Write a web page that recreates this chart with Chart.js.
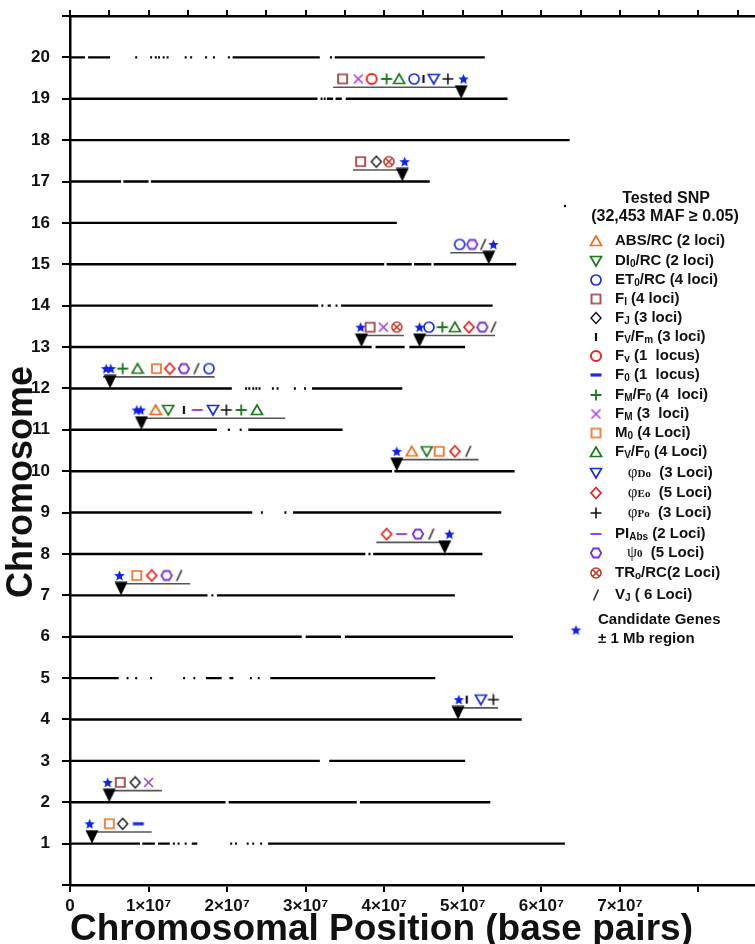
<!DOCTYPE html>
<html><head><meta charset="utf-8">
<script src="https://cdn.jsdelivr.net/npm/chart.js@4.4.1/dist/chart.umd.min.js"></script>
<style>html,body{margin:0;padding:0;background:#fff;overflow:hidden;}#wrap{width:800px;height:944px;}</style>
</head><body><div id="wrap"><canvas id="c" width="755" height="944"></canvas></div>
<script>
// ---------- DATA (positions in Mb) ----------
const chromosomes = [1,2,3,4,5,6,7,8,9,10,11,12,13,14,15,16,17,18,19,20];
const yTickLabels = ['1','2','3','4','5','6','7','8','9','10','11','12','13','14','15','16','17','18','19','20'];
const xTickValues = [0,10,20,30,40,50,60,70,80];
const xTickLabels = ['0','1×10⁷','2×10⁷','3×10⁷','4×10⁷','5×10⁷','6×10⁷','7×10⁷',''];
// SNP coverage runs per chromosome [start,end] (Mb)
const snpRuns = [
  [[0,8.9],[9.2,10.8],[11.2,12.7],[13.1,13.3],[13.7,13.9],[14.6,14.8],[15.5,16.2],[20.4,20.6],[21.0,21.2],[22.5,22.7],[23.2,23.4],[24.2,24.4],[25.2,63.0]],
  [[0,19.8],[20.2,36.5],[36.9,53.5]],
  [[0,31.8],[33.0,50.3]],
  [[0,57.5]],
  [[0,6.2],[7.2,7.4],[8.3,8.5],[10.2,10.4],[14.4,14.6],[15.7,15.9],[17.3,19.3],[20.3,20.8],[22.9,23.1],[23.9,24.1],[25.5,46.5]],
  [[0,29.5],[30,34.5],[35,56.4]],
  [[0,17.5],[18,18.2],[18.7,49]],
  [[0,37.6],[38.0,38.2],[38.6,52.5]],
  [[0,23.2],[24.3,24.5],[27.3,27.5],[28.4,54.9]],
  [[0,41],[41.3,56.6]],
  [[0,18.7],[20.1,20.3],[21.6,21.8],[22.7,34.7]],
  [[0,20.6],[22.3,22.5],[22.7,22.9],[23.2,23.4],[23.6,23.8],[24.0,24.2],[25.7,25.9],[26.3,26.5],[28.5,28.7],[29.8,30.0],[30.8,42.3]],
  [[0,38.4],[38.9,42.6],[43.2,50.3]],
  [[0,31.6],[32,32.2],[32.8,33.2],[33.8,34],[34.5,53.8]],
  [[0,40],[40.3,43.5],[43.8,46],[46.3,56.8]],
  [[0,41.6]],
  [[0,6.5],[6.8,10.0],[10.3,45.8]],
  [[0,63.6]],
  [[0,31.5],[31.9,32.1],[32.3,32.5],[32.7,33.5],[33.8,34.6],[35.1,55.7]],
  [[0,1.9],[2.3,5.1],[8.3,8.5],[10.2,10.4],[10.8,11.0],[11.2,11.4],[11.8,12.0],[12.3,12.5],[14.6,14.8],[15.3,15.5],[17.2,17.4],[18.2,18.4],[20.1,20.3],[20.7,31.8],[33.1,33.3],[33.7,52.8]]
];
// QTL spans [chr, start, end]
const qtlSpans = [[19,33.5,49.2],[17,36.0,42.2],[15,48.4,53.4],[13,36.5,42.5],[13,44.1,54.1],[12,4.2,18.4],[11,8.9,27.4],[10,41.1,52.0],[8,39.0,47.7],[7,6.4,15.3],[4,49.0,54.5],[2,4.7,11.7],[1,2.1,10.4]];
// QTL peak markers [chr, pos]
const qtlPeaks = [[19,49.8],[17,42.3],[15,53.3],[13,37.1],[13,44.5],[12,5.1],[11,9.1],[10,41.6],[8,47.7],[7,6.5],[4,49.4],[2,5.0],[1,2.8]];
// candidate genes [chr, pos]
const candidateGenes = [[19,50.1],[17,42.6],[15,53.9],[13,37.0],[13,44.5],[12,4.6],[12,5.2],[11,8.5],[11,9.0],[10,41.6],[8,48.3],[7,6.3],[4,49.5],[2,4.8],[1,2.5]];
// trait loci [chr, pos]
const ABS_RC  = [[11,10.9],[10,43.5]];
const DI0_RC  = [[11,12.5],[10,45.4]];
const ET0_RC  = [[19,43.8],[15,49.6],[13,45.7],[12,17.7]];
const F_I     = [[19,34.7],[17,37.0],[13,38.2],[2,6.4]];
const F_J     = [[17,39.0],[2,8.3],[1,6.7]];
const FV_FM   = [[19,45.0],[11,14.5],[4,50.5]];
const F_V     = [[19,38.4]];
const F_0     = [[1,8.7]];
const FM_F0   = [[19,40.3],[13,47.4],[12,6.7],[11,21.8]];
const F_M     = [[19,36.7],[13,39.9],[2,10.0]];
const M_0     = [[12,11.0],[10,47.0],[7,8.5],[1,5.0]];
const FV_F0   = [[19,41.9],[13,49.0],[12,8.6],[11,23.8]];
const PHI_DO  = [[19,46.3],[11,18.2],[4,52.3]];
const PHI_EO  = [[13,50.8],[12,12.7],[10,49.0],[8,40.3],[7,10.4]];
const PHI_PO  = [[19,48.1],[11,19.9],[4,53.9]];
const PI_ABS  = [[11,16.2],[8,42.2]];
const PSI_0   = [[15,51.2],[13,52.5],[12,14.5],[8,44.3],[7,12.3]];
const TRO_RC  = [[17,40.6],[13,41.6]];
const V_J     = [[15,52.6],[13,53.9],[12,16.1],[10,50.7],[8,46.0],[7,13.9]];

// ---------- ICONS ----------
function icon(kind, color, opt={}) {
  const s = opt.size || 14, c = document.createElement('canvas');
  c.width = s; c.height = s;
  const g = c.getContext('2d'), m = s/2;
  g.strokeStyle = color; g.fillStyle = color; g.lineWidth = opt.lw || 1.7; g.lineJoin='miter';
  g.beginPath();
  if (kind==='triUp'){ g.moveTo(m,2); g.lineTo(s-1.5,s-2.5); g.lineTo(1.5,s-2.5); g.closePath(); g.stroke(); }
  else if (kind==='triDown'){ g.moveTo(1.5,2.5); g.lineTo(s-1.5,2.5); g.lineTo(m,s-2); g.closePath(); g.stroke(); }
  else if (kind==='circle'){ g.arc(m,m,m-2,0,Math.PI*2); g.stroke(); }
  else if (kind==='square'){ g.rect(2,2,s-4,s-4); g.stroke(); }
  else if (kind==='diamond'){ g.moveTo(m,1.5); g.lineTo(s-2,m); g.lineTo(m,s-1.5); g.lineTo(2,m); g.closePath(); g.stroke(); }
  else if (kind==='vbar'){ g.moveTo(m,2); g.lineTo(m,s-2); g.stroke(); }
  else if (kind==='hdash'){ g.moveTo(1.5,m); g.lineTo(s-1.5,m); g.stroke(); }
  else if (kind==='plus'){ g.moveTo(m,1.5); g.lineTo(m,s-1.5); g.moveTo(1.5,m); g.lineTo(s-1.5,m); g.stroke(); }
  else if (kind==='x'){ g.moveTo(2,2); g.lineTo(s-2,s-2); g.moveTo(s-2,2); g.lineTo(2,s-2); g.stroke(); }
  else if (kind==='hex'){ const r=m-1.8; for(let i=0;i<6;i++){const a=Math.PI/3*i; const px=m+r*Math.cos(a), py=m+r*Math.sin(a); i?g.lineTo(px,py):g.moveTo(px,py);} g.closePath(); g.stroke(); }
  else if (kind==='otimes'){ const r=m-2; g.arc(m,m,r,0,Math.PI*2); const d=r*0.7; g.moveTo(m-d,m-d); g.lineTo(m+d,m+d); g.moveTo(m+d,m-d); g.lineTo(m-d,m+d); g.stroke(); }
  else if (kind==='slash'){ g.moveTo(m-2.5,s-1.5); g.lineTo(m+2.5,1.5); g.stroke(); }
  else if (kind==='star'){ const R=m-1, r=R*0.45; for(let i=0;i<10;i++){const a=-Math.PI/2+i*Math.PI/5; const rr=i%2?r:R; const px=m+rr*Math.cos(a), py=m+0.5+rr*Math.sin(a); i?g.lineTo(px,py):g.moveTo(px,py);} g.closePath(); g.fill(); }
  else if (kind==='peak'){ g.moveTo(0.5,0.5); g.lineTo(s-0.5,0.5); g.lineTo(m,s); g.closePath(); g.fill(); }
  else if (kind==='dot'){ g.arc(m,m,1.2,0,Math.PI*2); g.fill(); }
  return c;
}
const ORANGE='#f26b1d', GREEN='#1b7a1b', BLUE='#1a2de0', RED='#e8251f', PURPLE='#a23fe6', VIOLET='#7b2fd4', BLK='#111';
const traits = [
  {data:ABS_RC, ic:icon('triUp',ORANGE)},
  {data:DI0_RC, ic:icon('triDown',GREEN)},
  {data:ET0_RC, ic:icon('circle',BLUE)},
  {data:F_I,    ic:icon('square','#9e3535',{size:13})},
  {data:F_J,    ic:icon('diamond',BLK,{lw:1.4})},
  {data:FV_FM,  ic:icon('vbar',BLK,{lw:2.2,size:12})},
  {data:F_V,    ic:icon('circle',RED,{lw:2})},
  {data:F_0,    ic:icon('hdash',BLUE,{lw:3.2})},
  {data:FM_F0,  ic:icon('plus',GREEN,{lw:1.8})},
  {data:F_M,    ic:icon('x',PURPLE,{lw:1.6,size:13})},
  {data:M_0,    ic:icon('square',ORANGE,{size:13})},
  {data:FV_F0,  ic:icon('triUp',GREEN)},
  {data:PHI_DO, ic:icon('triDown',BLUE)},
  {data:PHI_EO, ic:icon('diamond',RED,{lw:1.8})},
  {data:PHI_PO, ic:icon('plus',BLK,{lw:1.6})},
  {data:PI_ABS, ic:icon('hdash',PURPLE,{lw:2})},
  {data:PSI_0,  ic:icon('hex',VIOLET,{lw:1.8})},
  {data:TRO_RC, ic:icon('otimes','#c0392b',{lw:1.6})},
  {data:V_J,    ic:icon('slash','#333',{lw:1.6})}
];
const starIcon = icon('star','#1020e6',{size:13});
const peakIcon = icon('peak','#000',{size:14});
const dotIcon = icon('dot','#000',{size:6});

// ---------- DATASETS ----------
const MB = 1e6;
const datasets = [];
chromosomes.forEach((chr,i)=>{
  const pts = [];
  snpRuns[i].forEach((r,k)=>{
    if (k>0) pts.push({x:(r[0]-0.01)*MB, y:null});
    pts.push({x:r[0]*MB,y:chr},{x:Math.max(r[1],r[0]+0.25)*MB,y:chr});
  });
  datasets.push({type:'line',data:pts,borderColor:'#000',borderWidth:2.4,pointRadius:0,spanGaps:false,borderCapStyle:'butt',order:5});
});
const spanPts=[];
qtlSpans.forEach((s,k)=>{ if(k>0) spanPts.push({x:s[1]*MB,y:null}); spanPts.push({x:s[1]*MB,y:s[0]+0.28},{x:s[2]*MB,y:s[0]+0.28}); });
datasets.push({type:'line',data:spanPts,borderColor:'#555',borderWidth:1.6,pointRadius:0,spanGaps:false,order:4});
datasets.push({type:'scatter',data:qtlPeaks.map(p=>({x:p[1]*MB,y:p[0]+0.17})),pointStyle:peakIcon,pointRadius:6,order:3});
traits.forEach(t=>datasets.push({type:'scatter',data:t.data.map(p=>({x:p[1]*MB,y:p[0]+0.48})),pointStyle:t.ic,pointRadius:6,order:2}));
datasets.push({type:'scatter',data:candidateGenes.map(p=>({x:p[1]*MB,y:p[0]+0.48})),pointStyle:starIcon,pointRadius:6,order:1});

// ---------- LEGEND / TITLE PLUGIN ----------
const F='"Liberation Sans", Arial, sans-serif', SERIF='"Liberation Serif","DejaVu Serif",serif';
function rich(ctx,x,y,parts){
  parts.forEach(p=>{
    const sz=p.sz||15; ctx.font=(p.w||'bold')+' '+sz+'px '+(p.f||F);
    ctx.fillText(p.t,x,y+(p.dy||0)); x+=ctx.measureText(p.t).width;
  });
}
const S=(t)=>({t,sz:10,dy:3});
const legendRows = [
  [{t:'ABS/RC (2 loci)'}],
  [{t:'DI'},S('0'),{t:'/RC (2 loci)'}],
  [{t:'ET'},S('0'),{t:'/RC (4 loci)'}],
  [{t:'F'},S('I'),{t:' (4 loci)'}],
  [{t:'F'},S('J'),{t:' (3 loci)'}],
  [{t:'F'},S('V'),{t:'/F'},S('m'),{t:' (3 loci)'}],
  [{t:'F'},S('v'),{t:' (1  locus)'}],
  [{t:'F'},S('0'),{t:' (1  locus)'}],
  [{t:'F'},S('M'),{t:'/F'},S('0'),{t:' (4  loci)'}],
  [{t:'F'},S('M'),{t:' (3  loci)'}],
  [{t:'M'},S('0'),{t:' (4 Loci)'}],
  [{t:'F'},S('V'),{t:'/F'},S('0'),{t:' (4 Loci)'}],
  [{t:'   φ',f:SERIF,sz:17,w:'normal'},{t:'Do',f:SERIF,sz:11,dy:1},{t:'  (3 Loci)'}],
  [{t:'   φ',f:SERIF,sz:17,w:'normal'},{t:'Eo',f:SERIF,sz:11,dy:1},{t:'  (5 Loci)'}],
  [{t:'   φ',f:SERIF,sz:17,w:'normal'},{t:'Po',f:SERIF,sz:11,dy:1},{t:'  (3 Loci)'}],
  [{t:'PI'},S('Abs'),{t:' (2 Loci)'}],
  [{t:'   ψ',f:SERIF,sz:16,w:'normal'},{t:'0',f:SERIF,sz:11,dy:1},{t:'  (5 Loci)'}],
  [{t:'TR'},S('o'),{t:'/RC(2 Loci)'}],
  [{t:'V'},S('J'),{t:' ( 6 Loci)'}]
];
const legendY = [241,261,280,299,318,337,356,375,395,414,433,452,473,493,513,534,553,573,595];
const legendPlugin = {
  id:'qtlLegend',
  afterDraw(chart){
    const ctx=chart.ctx; ctx.save(); ctx.fillStyle='#111'; ctx.textBaseline='middle'; ctx.textAlign='left';
    ctx.drawImage(dotIcon,565-3,206-3);
    ctx.font='bold 16px '+F; ctx.textAlign='center';
    ctx.fillText('Tested SNP',666,199);
    ctx.fillText('(32,453 MAF ≥ 0.05)',665,217);
    ctx.textAlign='left';
    traits.forEach((t,i)=>{
      const y=legendY[i]; ctx.drawImage(t.ic,596-t.ic.width/2,y-t.ic.height/2);
      rich(ctx,615,y,legendRows[i]);
    });
    ctx.drawImage(starIcon,576-starIcon.width/2,630-starIcon.height/2);
    ctx.font='bold 15px '+F;
    ctx.fillText('Candidate Genes',598,620);
    ctx.fillText('± 1 Mb region',598,639);
    // y-axis title
    ctx.save(); ctx.translate(22,482); ctx.rotate(-Math.PI/2);
    ctx.textAlign='center'; ctx.font='bold 36px '+F; ctx.fillText('Chromosome',0,0); ctx.restore();
    ctx.restore();
  }
};

const chart = new Chart(document.getElementById('c'),{
  type:'scatter',
  data:{datasets},
  options:{
    responsive:false, maintainAspectRatio:false, animation:false, devicePixelRatio:1,
    layout:{padding:0},
    plugins:{legend:{display:false},tooltip:{enabled:false}},
    scales:{
      x:{type:'linear',min:0,max:87.2*MB,
        afterBuildTicks:(s)=>{s.ticks=xTickValues.map(v=>({value:v*MB}));},
        ticks:{color:'#111',font:{family:F,size:17,weight:'bold'},padding:4,maxRotation:0,autoSkip:false,
          callback:(v)=>{const i=xTickValues.indexOf(Math.round(v/MB)); return i>=0?xTickLabels[i]:'';}},
        grid:{display:true,drawOnChartArea:false,drawTicks:true,tickLength:7,color:'#000',lineWidth:2},
        border:{display:true,color:'#000',width:2.5},
        title:{display:true,align:'start',text:'Chromosomal Position (base pairs)',color:'#111',font:{family:F,size:37,weight:'bold',lineHeight:0.75},padding:{top:0,bottom:0}},
        afterFit:(s)=>{s.height=59;s.paddingLeft=0;s.paddingRight=0;}
      },
      x2:{type:'linear',position:'top',min:0,max:87.2*MB,
        afterBuildTicks:(s)=>{const t=[];for(let v=0;v<=85;v+=5)t.push({value:v*MB});s.ticks=t;},
        ticks:{display:false},
        grid:{display:true,drawOnChartArea:false,drawTicks:true,tickLength:6,color:'#000',lineWidth:2},
        border:{display:true,color:'#000',width:2.5},
        afterFit:(s)=>{s.height=16;s.paddingLeft=0;s.paddingRight=0;}
      },
      y:{type:'linear',min:0,max:21,
        afterBuildTicks:(s)=>{const t=[];for(let v=0;v<=21;v++)t.push({value:v});s.ticks=t;},
        ticks:{color:'#111',font:{family:F,size:17,weight:'bold'},padding:12,autoSkip:false,
          callback:(v)=>(v>=1&&v<=20)?yTickLabels[v-1]:''},
        grid:{display:true,drawOnChartArea:false,drawTicks:true,tickLength:8,color:'#000',lineWidth:2},
        border:{display:true,color:'#000',width:2.5},
        afterFit:(s)=>{s.width=70;s.paddingTop=0;s.paddingBottom=0;}
      }
    }
  },
  plugins:[legendPlugin]
});
// make the plot area reach the right edge of the 755px page (extra canvas width is clipped)
const gap = 755 - chart.chartArea.right;
if (gap > 0.5) chart.resize(Math.round(755 + gap), 944);
</script></body></html>
